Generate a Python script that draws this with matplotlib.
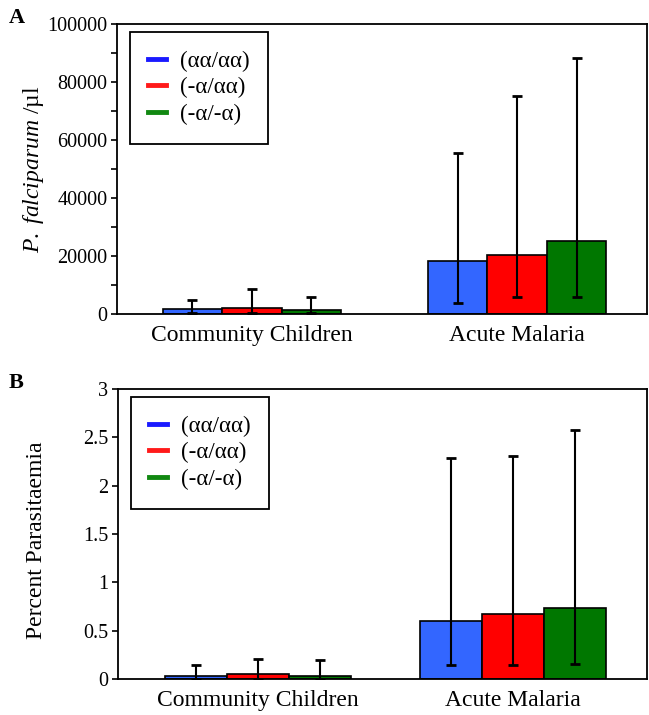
import numpy as np
import matplotlib
matplotlib.use("Agg")
import matplotlib.pyplot as plt
from matplotlib.lines import Line2D
from matplotlib.ticker import MultipleLocator

plt.rcParams['font.family'] = ['Liberation Serif', 'DejaVu Serif']
plt.rcParams['mathtext.fontset'] = 'custom'
plt.rcParams['mathtext.rm'] = 'Liberation Serif'
plt.rcParams['mathtext.it'] = 'Liberation Serif:italic'

GROUPS = ["Community Children", "Acute Malaria"]
GENOTYPES = ["(\u03b1\u03b1/\u03b1\u03b1)", "(-\u03b1/\u03b1\u03b1)", "(-\u03b1/-\u03b1)"]
COLORS = ["#3366ff", "#ff0000", "#007700"]
LEGEND_COLORS = ["#1a1aff", "#ff1a1a", "#118811"]

# panel A: parasite density (/ul), mean and error bar ends (low, high)
density_aa_aa = [1800, 18300]
density_a_aa = [1900, 20400]
density_a_a = [1300, 25300]
density_low = [[300, 3700], [300, 5800], [300, 5800]]
density_high = [[4700, 55400], [8500, 75200], [5900, 88200]]

# panel B: percent parasitaemia
pct_aa_aa = [0.03, 0.60]
pct_a_aa = [0.05, 0.67]
pct_a_a = [0.03, 0.73]
pct_low = [[0.005, 0.14], [0.005, 0.14], [0.005, 0.155]]
pct_high = [[0.14, 2.29], [0.205, 2.31], [0.195, 2.58]]


def draw_panel(ax, means, lows, highs, width, xlim):
    x = np.arange(len(GROUPS))
    for i, m in enumerate(means):
        m = np.array(m)
        yerr = [m - np.array(lows[i]), np.array(highs[i]) - m]
        pos = x + (i - 1) * width
        ax.bar(pos, m, width, color=COLORS[i], edgecolor='black',
               linewidth=1.2, zorder=2)
        ax.errorbar(pos, m, yerr=yerr, fmt='none', ecolor='black',
                    elinewidth=1.5, capsize=3.5, capthick=2, zorder=3)
    ax.set_xticks(x)
    ax.set_xticklabels(GROUPS, fontsize=17)
    ax.tick_params(axis='x', length=0, pad=8)
    ax.tick_params(axis='y', which='both', direction='out', length=4,
                   width=1.2, labelsize=14.5, pad=3)
    ax.set_xlim(*xlim)
    for s in ax.spines.values():
        s.set_linewidth(1.3)
    handles = [Line2D([0], [0], color=c, lw=3.5) for c in LEGEND_COLORS]
    leg = ax.legend(handles, GENOTYPES, loc='upper left',
                    bbox_to_anchor=(0.024, 0.972), fontsize=16.5,
                    handlelength=0.8, handletextpad=0.6, labelspacing=0.25,
                    borderpad=0.8, fancybox=False, framealpha=1,
                    edgecolor='black', borderaxespad=0)
    leg.get_frame().set_linewidth(1.3)


fig = plt.figure(figsize=(6.49, 7.15), dpi=100)

ax1 = fig.add_axes([117 / 649, 1 - 314 / 715, 530 / 649, 290 / 715])
draw_panel(ax1, [density_aa_aa, density_a_aa, density_a_a],
           density_low, density_high, 0.224, (-0.508, 1.489))
ax1.set_ylim(0, 100000)
ax1.yaxis.set_major_locator(MultipleLocator(20000))
ax1.yaxis.set_minor_locator(MultipleLocator(10000))
ax1.set_ylabel("$\\mathit{P.\\ falciparum}$ /\u00b5l", fontsize=17)
ax1.yaxis.set_label_coords(-0.134, 0.5)

ax2 = fig.add_axes([118 / 649, 1 - 679 / 715, 529 / 649, 290 / 715])
draw_panel(ax2, [pct_aa_aa, pct_a_aa, pct_a_a],
           pct_low, pct_high, 0.243, (-0.547, 1.525))
ax2.set_ylim(0, 3)
ax2.set_yticks([0, 0.5, 1, 1.5, 2, 2.5, 3])
ax2.set_yticklabels(["0", "0.5", "1", "1.5", "2", "2.5", "3"])
ax2.set_ylabel("Percent Parasitaemia", fontsize=17)
ax2.yaxis.set_label_coords(-0.134, 0.48)

fig.text(9 / 649, 1 - 18 / 715, "A", fontsize=16, fontweight='bold',
         va='center', ha='left')
fig.text(9 / 649, 1 - 383 / 715, "B", fontsize=16, fontweight='bold',
         va='center', ha='left')

fig.savefig("out.png", dpi=100)
